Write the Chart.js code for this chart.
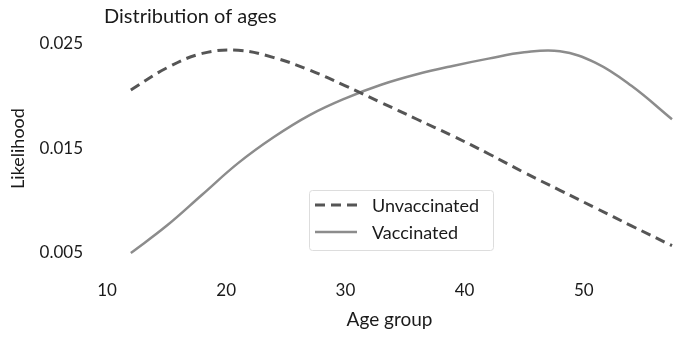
<!DOCTYPE html>
<html>
<head>
<meta charset="utf-8">
<script src="https://cdn.jsdelivr.net/npm/chart.js@4/dist/chart.umd.min.js"></script>
<style>
  html, body { margin: 0; padding: 0; background: #fff; }
  #wrap { width: 679px; height: 337px; }
</style>
</head>
<body>
<div id="wrap"><canvas id="chart" width="679" height="337"></canvas></div>
<script>
// datos
const chartTitle = 'Distribution of ages';
const xLabel = 'Age group';
const yLabel = 'Likelihood';
const seriesNames = ['Unvaccinated', 'Vaccinated'];

const ages = [12, 15, 18, 21, 24, 27, 30, 33, 36, 39, 42, 45, 48, 51, 54, 57.4];
const unvaccinated = [0.0206, 0.0227, 0.0241, 0.0244, 0.0237, 0.0225, 0.0210, 0.0194, 0.0178, 0.0162, 0.0145, 0.0127, 0.0110, 0.0093, 0.0076, 0.0057];
const vaccinated = [0.0050, 0.0076, 0.0106, 0.0136, 0.0161, 0.0182, 0.0198, 0.0211, 0.0221, 0.0229, 0.0236, 0.0242, 0.0243, 0.0232, 0.0210, 0.0178];

const xTicks = [10, 20, 30, 40, 50];
const yTicks = [0.005, 0.015, 0.025];

const FONT = 'Lato, "Noto Sans", sans-serif';
const darkGrey = '#555555';
const lightGrey = '#8c8c8c';

// leyenda y titulo dibujados a mano dentro del area
const overlay = {
  id: 'overlay',
  afterDraw(chart) {
    const ctx = chart.ctx;
    const area = chart.chartArea;
    ctx.save();
    ctx.fillStyle = '#1a1a1a';
    ctx.font = '20px ' + FONT;
    ctx.textBaseline = 'middle';
    ctx.textAlign = 'left';
    ctx.fillText(chartTitle, area.left - 3, 17);

    // caja de la leyenda
    const bx = 309, by = 190, bw = 184, bh = 60;
    ctx.strokeStyle = '#dddddd';
    ctx.lineWidth = 1;
    ctx.fillStyle = 'rgba(255,255,255,0.85)';
    ctx.beginPath();
    ctx.roundRect(bx + 0.5, by + 0.5, bw, bh, 3);
    ctx.fill();
    ctx.stroke();

    ctx.font = '18px ' + FONT;
    chart.data.datasets.forEach((ds, i) => {
      const y = by + 15 + i * 27;
      ctx.strokeStyle = ds.borderColor;
      ctx.lineWidth = ds.borderWidth;
      ctx.setLineDash(ds.borderDash || []);
      ctx.beginPath();
      ctx.moveTo(bx + 6, y);
      ctx.lineTo(bx + 48, y);
      ctx.stroke();
      ctx.setLineDash([]);
      ctx.fillStyle = '#1a1a1a';
      ctx.fillText(ds.label, bx + 63, y + 1);
    });
    ctx.restore();
  }
};

new Chart(document.getElementById('chart'), {
  type: 'line',
  data: {
    datasets: [{
      label: seriesNames[0],
      data: ages.map((a, i) => ({ x: a, y: unvaccinated[i] })),
      borderColor: darkGrey,
      borderWidth: 3,
      borderDash: [10, 6],
      pointRadius: 0,
      tension: 0.4,
      clip: false
    }, {
      label: seriesNames[1],
      data: ages.map((a, i) => ({ x: a, y: vaccinated[i] })),
      borderColor: lightGrey,
      borderWidth: 2.5,
      pointRadius: 0,
      tension: 0.4,
      clip: false
    }]
  },
  options: {
    responsive: false,
    animation: false,
    layout: { padding: { top: 44, right: 7, left: 0, bottom: 0 } },
    plugins: {
      legend: { display: false },
      title: { display: false },
      tooltip: { enabled: false }
    },
    scales: {
      x: {
        type: 'linear',
        min: 10,
        max: 57.4,
        grid: { display: false, drawTicks: false },
        border: { display: false },
        afterBuildTicks: (s) => { s.ticks = xTicks.map(v => ({ value: v })); },
        afterFit: (s) => { s.height = 84; },
        ticks: { color: '#1a1a1a', padding: 27, font: { family: FONT, size: 17 } },
        title: { display: true, text: xLabel, color: '#1a1a1a', font: { family: FONT, size: 19 }, padding: { top: 0, bottom: 6 } }
      },
      y: {
        min: 0.005,
        max: 0.025,
        grid: { display: false, drawTicks: false },
        border: { display: false },
        afterBuildTicks: (s) => { s.ticks = yTicks.map(v => ({ value: v })); },
        afterFit: (s) => { s.width = 107; },
        ticks: { color: '#1a1a1a', padding: 24, font: { family: FONT, size: 17 }, callback: (v) => v.toFixed(3) },
        title: { display: true, text: yLabel, color: '#1a1a1a', font: { family: FONT, size: 18 }, padding: { top: 7, bottom: 0 } }
      }
    }
  },
  plugins: [overlay]
});
</script>
</body>
</html>
